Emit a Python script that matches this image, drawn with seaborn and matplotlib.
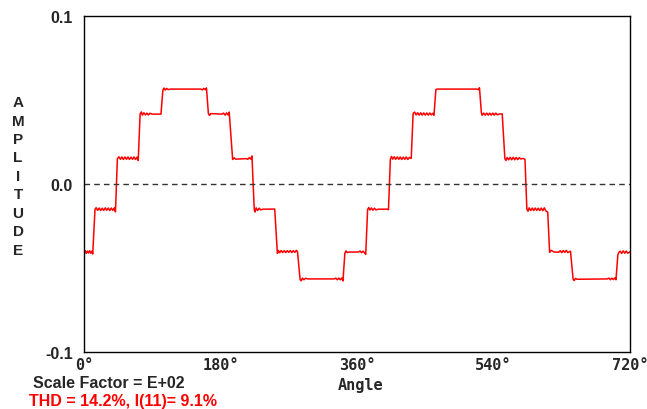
import pandas as pd
import seaborn as sns
import matplotlib.pyplot as plt

# stepped current waveform (angle in degrees, amplitude)
first_cycle = [
    (0, -0.0410), (1.5, -0.0397), (3, -0.0413), (4.5, -0.0399), (6, -0.0411), (7.5, -0.0397),
    (9, -0.0412), (10.5, -0.0399), (11.5, -0.0417),
    (14.5, -0.0152), (16, -0.0141), (18, -0.0157), (20, -0.0143), (22, -0.0158), (24, -0.0144),
    (26, -0.0157), (28, -0.0142), (30, -0.0156), (32, -0.0143), (34, -0.0158), (36, -0.0143),
    (38, -0.0157), (40, -0.0142), (41.5, -0.0166),
    (44, 0.0150), (46, 0.0162), (48, 0.0147), (50, 0.0161), (52, 0.0146), (54, 0.0161),
    (56, 0.0147), (58, 0.0161), (60, 0.0146), (62, 0.0160), (64, 0.0147), (66, 0.0161),
    (68, 0.0146), (70, 0.0160), (71.5, 0.0140),
    (74, 0.0417), (75.5, 0.0429), (77, 0.0410), (79, 0.0424), (81, 0.0411), (83, 0.0422),
    (85, 0.0411), (87, 0.0421), (90, 0.0416), (101.5, 0.0416),
    (104, 0.0558), (105.5, 0.0571), (107, 0.0559), (109, 0.0569), (111, 0.0562), (114, 0.0565),
    (154, 0.0565), (156, 0.0560), (158, 0.0569), (160, 0.0561), (161.5, 0.0572),
    (164, 0.0420), (165.5, 0.0408), (167, 0.0419), (182, 0.0416), (184, 0.0422), (186, 0.0410),
    (188, 0.0423), (190, 0.0411), (191.5, 0.0428),
    (196, 0.0146), (198, 0.0156), (200, 0.0148), (214, 0.0151), (216, 0.0147), (218, 0.0157),
    (220, 0.0148), (221.5, 0.0167),
    (224.5, -0.0152), (225.5, -0.0167), (227, -0.0142), (229, -0.0158), (231, -0.0144),
    (233, -0.0154), (236, -0.0150), (251.5, -0.0149),
    (255, -0.0413), (256.5, -0.0396), (258, -0.0409), (260, -0.0396), (262, -0.0408),
    (264, -0.0397), (266, -0.0408), (268, -0.0397), (270, -0.0407), (272, -0.0396),
    (274, -0.0408), (276, -0.0397), (278, -0.0407), (280, -0.0395), (281.5, -0.0402),
    (285, -0.0570), (286.5, -0.0576), (288, -0.0560), (290, -0.0570), (292, -0.0561),
    (295, -0.0565), (330, -0.0565), (332, -0.0560), (334, -0.0570), (336, -0.0560),
    (338, -0.0570), (340, -0.0559), (341.5, -0.0577),
    (344, -0.0412), (345.5, -0.0398), (347, -0.0408), (350, -0.0405), (360, -0.0405),
]

second_cycle = [
    (362, -0.0405), (364, -0.0399), (366, -0.0409), (368, -0.0400), (370, -0.0410), (371.5, -0.0419),
    (374, -0.0152), (375.5, -0.0140), (377, -0.0155), (379, -0.0143), (381, -0.0156),
    (383, -0.0144), (385, -0.0154), (388, -0.0150), (400, -0.0150), (401.5, -0.0153),
    (404, 0.0148), (405.5, 0.0164), (407, 0.0148), (409, 0.0162), (411, 0.0147), (413, 0.0161),
    (415, 0.0147), (417, 0.0161), (419, 0.0146), (421, 0.0160), (423, 0.0147), (425, 0.0161),
    (427, 0.0146), (429, 0.0158), (431.5, 0.0152),
    (434, 0.0420), (436, 0.0428), (438, 0.0411), (440, 0.0424), (442, 0.0410), (444, 0.0424),
    (446, 0.0410), (448, 0.0423), (450, 0.0410), (452, 0.0423), (454, 0.0410), (456, 0.0423),
    (458, 0.0411), (460, 0.0421), (461.5, 0.0409),
    (464, 0.0562), (466, 0.0565), (518, 0.0565), (520, 0.0561), (521.5, 0.0573),
    (524, 0.0425), (525, 0.0409), (527, 0.0422), (529, 0.0410), (531, 0.0422), (533, 0.0410),
    (535, 0.0422), (537, 0.0410), (539, 0.0422), (541, 0.0410), (543, 0.0422), (545, 0.0412),
    (548, 0.0417), (551.5, 0.0417),
    (555, 0.0150), (556.5, 0.0140), (558, 0.0158), (560, 0.0144), (562, 0.0159), (564, 0.0144),
    (566, 0.0159), (568, 0.0144), (570, 0.0158), (572, 0.0145), (574, 0.0157), (576, 0.0149),
    (579, 0.0152), (581.5, 0.0147),
    (584, -0.0150), (585.5, -0.0162), (587, -0.0142), (589, -0.0158), (591, -0.0143),
    (593, -0.0158), (595, -0.0143), (597, -0.0157), (599, -0.0144), (601, -0.0158),
    (603, -0.0143), (605, -0.0159), (607, -0.0142), (609, -0.0160), (611.5, -0.0167),
    (614, -0.0407), (616, -0.0395), (620, -0.0405), (626, -0.0406), (628, -0.0397),
    (630, -0.0409), (632, -0.0396), (634, -0.0407), (636, -0.0395), (638, -0.0408), (641.5, -0.0400),
    (645, -0.0567), (646.5, -0.0575), (648, -0.0562), (650, -0.0567), (690, -0.0565),
    (692, -0.0560), (694, -0.0570), (696, -0.0560), (698, -0.0569), (700, -0.0559), (701.5, -0.0570),
    (704, -0.0420), (705.5, -0.0406), (707, -0.0400), (709, -0.0413), (711, -0.0398),
    (713, -0.0412), (715, -0.0399), (717, -0.0412), (720, -0.0404),
]

x_ticks = [0, 180, 360, 540, 720]
x_tick_labels = ["0°", "180°", "360°", "540°", "720°"]
y_ticks = [-0.1, 0.0, 0.1]
y_tick_labels = ["-0.1", "0.0", "0.1"]

df = pd.DataFrame(first_cycle + second_cycle, columns=["angle", "amplitude"])

sns.set_style("white")
plt.rcParams["font.family"] = ["Liberation Sans", "DejaVu Sans"]

W, H = 647, 410
fig = plt.figure(figsize=(W / 100, H / 100), dpi=100)
ax = fig.add_axes([84 / W, 57 / H, 546 / W, 336 / H])

sns.lineplot(data=df, x="angle", y="amplitude", ax=ax, color="#ff0000",
             linewidth=1.1, estimator=None, sort=False)
ax.axhline(0, color="#333333", linestyle=(0, (4, 3)), linewidth=1.0)

ax.set_xlim(0, 720)
ax.set_ylim(-0.1, 0.1)
ax.set_xticks(x_ticks)
ax.set_xticklabels(x_tick_labels, fontfamily="DejaVu Sans Mono", fontweight="bold", fontsize=11)
ax.set_yticks(y_ticks)
ax.set_yticklabels(y_tick_labels, fontweight="bold", fontsize=11.5)
ax.tick_params(axis="x", direction="inout", length=5, width=1, color="black", pad=1)
ax.tick_params(axis="y", length=0, pad=8)
ax.set_xlabel("")
ax.set_ylabel("")
for s in ax.spines.values():
    s.set_color("black")
    s.set_linewidth(1.0)

# stacked vertical axis title
for i, ch in enumerate("AMPLITUDE"):
    fig.text(18 / W, 1 - (103 + i * 18.5) / H, ch, ha="center", va="center",
             fontweight="bold", fontsize=11)

fig.text(361 / W, 1 - 386 / H, "Angle", ha="center", va="center",
         fontfamily="DejaVu Sans Mono", fontweight="bold", fontsize=11)
fig.text(33 / W, 1 - 384 / H, "Scale Factor = E+02", ha="left", va="center",
         fontweight="bold", fontsize=11.5)
fig.text(29 / W, 1 - 402 / H, "THD = 14.2%, I(11)= 9.1%", ha="left", va="center",
         fontweight="bold", fontsize=11.5, color="#ff0000")

fig.savefig("out.png", dpi=100)
